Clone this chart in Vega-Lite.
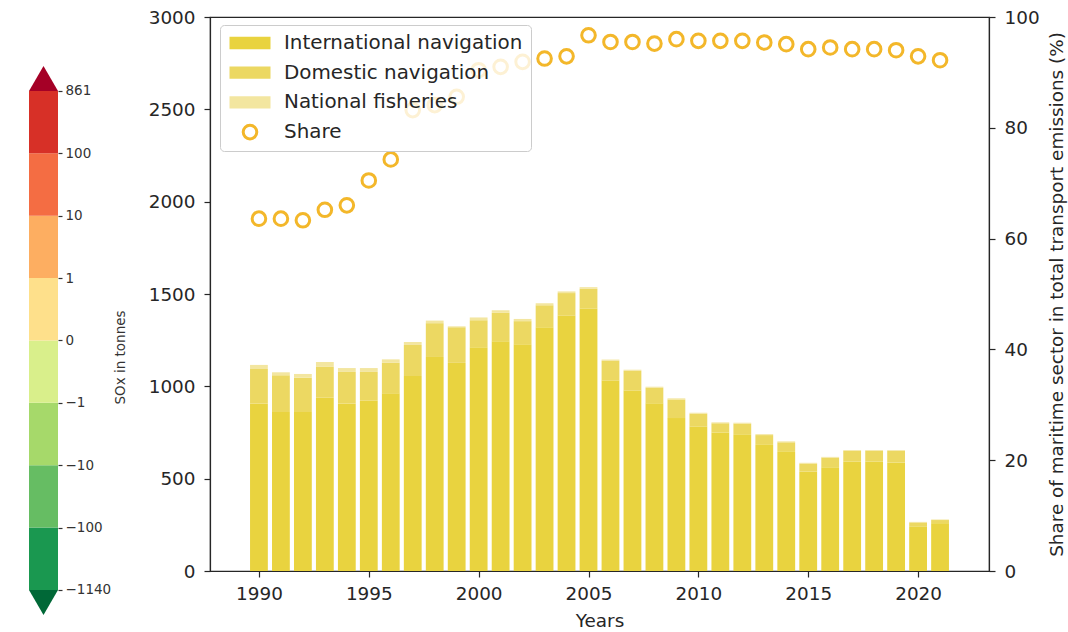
{
  "$schema": "https://vega.github.io/schema/vega-lite/v6.json",
  "background": "white",
  "padding": {"left": 29, "top": 7, "right": 5, "bottom": 5},
  "bounds": "flush",
  "spacing": 152,
  "config": {
    "font": "DejaVu Sans",
    "view": {"stroke": null},
    "axis": {"grid": false, "domainColor": "#262626", "tickColor": "#262626", "labelColor": "#262626", "titleColor": "#262626", "labelFont": "DejaVu Sans", "titleFont": "DejaVu Sans", "titleFontWeight": "normal", "domainWidth": 1.2, "tickWidth": 1.2}
  },
  "datasets": {
    "bars": [
      {"year": 1990, "series": "International navigation", "k": 1, "value": 906}, {"year": 1990, "series": "Domestic navigation", "k": 2, "value": 188}, {"year": 1990, "series": "National fisheries", "k": 3, "value": 22},
      {"year": 1991, "series": "International navigation", "k": 1, "value": 861}, {"year": 1991, "series": "Domestic navigation", "k": 2, "value": 199}, {"year": 1991, "series": "National fisheries", "k": 3, "value": 16},
      {"year": 1992, "series": "International navigation", "k": 1, "value": 861}, {"year": 1992, "series": "Domestic navigation", "k": 2, "value": 186}, {"year": 1992, "series": "National fisheries", "k": 3, "value": 20},
      {"year": 1993, "series": "International navigation", "k": 1, "value": 938}, {"year": 1993, "series": "Domestic navigation", "k": 2, "value": 170}, {"year": 1993, "series": "National fisheries", "k": 3, "value": 24},
      {"year": 1994, "series": "International navigation", "k": 1, "value": 906}, {"year": 1994, "series": "Domestic navigation", "k": 2, "value": 172}, {"year": 1994, "series": "National fisheries", "k": 3, "value": 21},
      {"year": 1995, "series": "International navigation", "k": 1, "value": 922}, {"year": 1995, "series": "Domestic navigation", "k": 2, "value": 156}, {"year": 1995, "series": "National fisheries", "k": 3, "value": 21},
      {"year": 1996, "series": "International navigation", "k": 1, "value": 962}, {"year": 1996, "series": "Domestic navigation", "k": 2, "value": 166}, {"year": 1996, "series": "National fisheries", "k": 3, "value": 18},
      {"year": 1997, "series": "International navigation", "k": 1, "value": 1056}, {"year": 1997, "series": "Domestic navigation", "k": 2, "value": 168}, {"year": 1997, "series": "National fisheries", "k": 3, "value": 16},
      {"year": 1998, "series": "International navigation", "k": 1, "value": 1159}, {"year": 1998, "series": "Domestic navigation", "k": 2, "value": 183}, {"year": 1998, "series": "National fisheries", "k": 3, "value": 14},
      {"year": 1999, "series": "International navigation", "k": 1, "value": 1127}, {"year": 1999, "series": "Domestic navigation", "k": 2, "value": 193}, {"year": 1999, "series": "National fisheries", "k": 3, "value": 5},
      {"year": 2000, "series": "International navigation", "k": 1, "value": 1212}, {"year": 2000, "series": "Domestic navigation", "k": 2, "value": 146}, {"year": 2000, "series": "National fisheries", "k": 3, "value": 15},
      {"year": 2001, "series": "International navigation", "k": 1, "value": 1244}, {"year": 2001, "series": "Domestic navigation", "k": 2, "value": 154}, {"year": 2001, "series": "National fisheries", "k": 3, "value": 14},
      {"year": 2002, "series": "International navigation", "k": 1, "value": 1228}, {"year": 2002, "series": "Domestic navigation", "k": 2, "value": 125}, {"year": 2002, "series": "National fisheries", "k": 3, "value": 12},
      {"year": 2003, "series": "International navigation", "k": 1, "value": 1320}, {"year": 2003, "series": "Domestic navigation", "k": 2, "value": 119}, {"year": 2003, "series": "National fisheries", "k": 3, "value": 11},
      {"year": 2004, "series": "International navigation", "k": 1, "value": 1382}, {"year": 2004, "series": "Domestic navigation", "k": 2, "value": 123}, {"year": 2004, "series": "National fisheries", "k": 3, "value": 9},
      {"year": 2005, "series": "International navigation", "k": 1, "value": 1420}, {"year": 2005, "series": "Domestic navigation", "k": 2, "value": 108}, {"year": 2005, "series": "National fisheries", "k": 3, "value": 9},
      {"year": 2006, "series": "International navigation", "k": 1, "value": 1031}, {"year": 2006, "series": "Domestic navigation", "k": 2, "value": 107}, {"year": 2006, "series": "National fisheries", "k": 3, "value": 7},
      {"year": 2007, "series": "International navigation", "k": 1, "value": 977}, {"year": 2007, "series": "Domestic navigation", "k": 2, "value": 107}, {"year": 2007, "series": "National fisheries", "k": 3, "value": 6},
      {"year": 2008, "series": "International navigation", "k": 1, "value": 908}, {"year": 2008, "series": "Domestic navigation", "k": 2, "value": 84}, {"year": 2008, "series": "National fisheries", "k": 3, "value": 6},
      {"year": 2009, "series": "International navigation", "k": 1, "value": 828}, {"year": 2009, "series": "Domestic navigation", "k": 2, "value": 101}, {"year": 2009, "series": "National fisheries", "k": 3, "value": 6},
      {"year": 2010, "series": "International navigation", "k": 1, "value": 781}, {"year": 2010, "series": "Domestic navigation", "k": 2, "value": 71}, {"year": 2010, "series": "National fisheries", "k": 3, "value": 5},
      {"year": 2011, "series": "International navigation", "k": 1, "value": 750}, {"year": 2011, "series": "Domestic navigation", "k": 2, "value": 50}, {"year": 2011, "series": "National fisheries", "k": 3, "value": 5},
      {"year": 2012, "series": "International navigation", "k": 1, "value": 741}, {"year": 2012, "series": "Domestic navigation", "k": 2, "value": 57}, {"year": 2012, "series": "National fisheries", "k": 3, "value": 5},
      {"year": 2013, "series": "International navigation", "k": 1, "value": 687}, {"year": 2013, "series": "Domestic navigation", "k": 2, "value": 49}, {"year": 2013, "series": "National fisheries", "k": 3, "value": 5},
      {"year": 2014, "series": "International navigation", "k": 1, "value": 649}, {"year": 2014, "series": "Domestic navigation", "k": 2, "value": 48}, {"year": 2014, "series": "National fisheries", "k": 3, "value": 5},
      {"year": 2015, "series": "International navigation", "k": 1, "value": 539}, {"year": 2015, "series": "Domestic navigation", "k": 2, "value": 43}, {"year": 2015, "series": "National fisheries", "k": 3, "value": 4},
      {"year": 2016, "series": "International navigation", "k": 1, "value": 562}, {"year": 2016, "series": "Domestic navigation", "k": 2, "value": 52}, {"year": 2016, "series": "National fisheries", "k": 3, "value": 4},
      {"year": 2017, "series": "International navigation", "k": 1, "value": 593}, {"year": 2017, "series": "Domestic navigation", "k": 2, "value": 58}, {"year": 2017, "series": "National fisheries", "k": 3, "value": 4},
      {"year": 2018, "series": "International navigation", "k": 1, "value": 593}, {"year": 2018, "series": "Domestic navigation", "k": 2, "value": 58}, {"year": 2018, "series": "National fisheries", "k": 3, "value": 4},
      {"year": 2019, "series": "International navigation", "k": 1, "value": 588}, {"year": 2019, "series": "Domestic navigation", "k": 2, "value": 63}, {"year": 2019, "series": "National fisheries", "k": 3, "value": 4},
      {"year": 2020, "series": "International navigation", "k": 1, "value": 242}, {"year": 2020, "series": "Domestic navigation", "k": 2, "value": 21}, {"year": 2020, "series": "National fisheries", "k": 3, "value": 3},
      {"year": 2021, "series": "International navigation", "k": 1, "value": 259}, {"year": 2021, "series": "Domestic navigation", "k": 2, "value": 17}, {"year": 2021, "series": "National fisheries", "k": 3, "value": 3}
    ],
    "share": [
      {"year": 1990, "share": 63.6}, {"year": 1991, "share": 63.6}, {"year": 1992, "share": 63.3}, {"year": 1993, "share": 65.2},
      {"year": 1994, "share": 66.0}, {"year": 1995, "share": 70.5}, {"year": 1996, "share": 74.3}, {"year": 1997, "share": 83.2},
      {"year": 1998, "share": 84.1}, {"year": 1999, "share": 85.6}, {"year": 2000, "share": 90.4}, {"year": 2001, "share": 91.0},
      {"year": 2002, "share": 91.9}, {"year": 2003, "share": 92.5}, {"year": 2004, "share": 92.9}, {"year": 2005, "share": 96.7},
      {"year": 2006, "share": 95.5}, {"year": 2007, "share": 95.5}, {"year": 2008, "share": 95.2}, {"year": 2009, "share": 96.0},
      {"year": 2010, "share": 95.7}, {"year": 2011, "share": 95.7}, {"year": 2012, "share": 95.7}, {"year": 2013, "share": 95.4},
      {"year": 2014, "share": 95.1}, {"year": 2015, "share": 94.2}, {"year": 2016, "share": 94.5}, {"year": 2017, "share": 94.2},
      {"year": 2018, "share": 94.2}, {"year": 2019, "share": 94.0}, {"year": 2020, "share": 92.9}, {"year": 2021, "share": 92.2}
    ],
    "cbar": [
      {"band": "b0", "lo": 0, "hi": 1}, {"band": "b1", "lo": 1, "hi": 2}, {"band": "b2", "lo": 2, "hi": 3}, {"band": "b3", "lo": 3, "hi": 4},
      {"band": "b4", "lo": 4, "hi": 5}, {"band": "b5", "lo": 5, "hi": 6}, {"band": "b6", "lo": 6, "hi": 7}, {"band": "b7", "lo": 7, "hi": 8}
    ],
    "ends": [{"end": "top", "at": 8}, {"end": "bottom", "at": 0}]
  },
  "resolve": {"scale": {"color": "independent", "y": "independent", "x": "independent"}, "legend": {"color": "independent"}},
  "hconcat": [
    {
      "width": 29,
      "height": 600,
      "layer": [
        {
          "data": {"name": "cbar"},
          "mark": {"type": "rect"},
          "encoding": {
            "x": {"datum": 0, "type": "quantitative", "scale": {"domain": [0, 1]}, "axis": null},
            "x2": {"datum": 1},
            "y": {"field": "lo", "type": "quantitative", "scale": {"domain": [-0.433, 9.186], "nice": false, "zero": false},
              "axis": {"orient": "right", "values": [0, 1, 2, 3, 4, 5, 6, 7, 8], "domain": false, "tickSize": 4, "tickColor": "#333", "labelFontSize": 13.5, "labelPadding": 3, "labelColor": "#333",
                "labelExpr": "['−1140','−100','−10','−1','0','1','10','100','861'][datum.value]",
                "title": "SOx in tonnes", "titleFontSize": 13.5, "titleAngle": 270, "titlePadding": 17, "titleY": 340, "titleColor": "#333"}},
            "y2": {"field": "hi"},
            "color": {"field": "band", "type": "nominal", "legend": null,
              "scale": {"domain": ["b0", "b1", "b2", "b3", "b4", "b5", "b6", "b7"], "range": ["#1a9850", "#66bd63", "#a6d96a", "#d9ef8b", "#fee08b", "#fdae61", "#f46d43", "#d73027"]}}
          }
        },
        {
          "data": {"name": "ends"},
          "transform": [{"filter": "datum.end === 'top'"}],
          "mark": {"type": "point", "shape": "M-1,0.862L0,-0.862L1,0.862Z", "filled": true, "size": 841, "opacity": 1, "yOffset": -12.5, "color": "#a50026"},
          "encoding": {
            "x": {"datum": 0.5, "type": "quantitative"},
            "y": {"field": "at", "type": "quantitative"}
          }
        },
        {
          "data": {"name": "ends"},
          "transform": [{"filter": "datum.end === 'bottom'"}],
          "mark": {"type": "point", "shape": "M-1,-0.862L0,0.862L1,-0.862Z", "filled": true, "size": 841, "opacity": 1, "yOffset": 12.5, "color": "#006837"},
          "encoding": {
            "x": {"datum": 0.5, "type": "quantitative"},
            "y": {"field": "at", "type": "quantitative"}
          }
        }
      ]
    },
    {
      "width": 779,
      "height": 554,
      "view": {"stroke": "#262626", "strokeWidth": 1.2},
      "resolve": {"scale": {"y": "independent"}},
      "layer": [
        {
          "data": {"name": "bars"},
          "mark": {"type": "bar", "width": 17.8},
          "encoding": {
            "x": {"field": "year", "type": "quantitative", "scale": {"domain": [1988, 2023], "nice": false, "zero": false},
              "axis": {"values": [1990, 1995, 2000, 2005, 2010, 2015, 2020], "format": "d", "tickSize": 6, "labelFontSize": 18.4, "labelPadding": 7,
                "title": "Years", "titleFontSize": 18.4, "titlePadding": 9}},
            "y": {"field": "value", "type": "quantitative", "aggregate": "sum", "stack": "zero", "scale": {"domain": [0, 3000], "nice": false},
              "axis": {"values": [0, 500, 1000, 1500, 2000, 2500, 3000], "format": "d", "tickSize": 6, "labelFontSize": 18.4, "labelPadding": 9, "title": null}},
            "order": {"field": "k", "type": "quantitative", "sort": "ascending"},
            "color": {"field": "series", "type": "nominal",
              "scale": {"domain": ["International navigation", "Domestic navigation", "National fisheries", "Share"], "range": ["#e9d33f", "#ecd862", "#f3e6a0", "#f3b72a"]},
              "legend": {
                "orient": "none", "legendX": 10, "legendY": 8, "title": null,
                "symbolSize": 1681, "clipHeight": 20, "rowPadding": 9.7, "labelOffset": 12, "symbolOffset": 0,
                "padding": 8, "labelFontSize": 19.9, "labelColor": "#262626", "labelFont": "DejaVu Sans", "labelLimit": 500,
                "cornerRadius": 4, "strokeColor": "#cccccc", "fillColor": "rgba(255,255,255,0.8)",
                "encode": {
                  "symbols": {
                    "update": {
                      "shape": {"signal": "datum.value === 'Share' ? 'circle' : 'M-1,-0.3H1V0.3H-1Z'"},
                      "size": {"signal": "datum.value === 'Share' ? 185 : 1681"},
                      "fill": {"signal": "datum.value === 'Share' ? 'white' : (datum.value === 'International navigation' ? '#e9d33f' : (datum.value === 'Domestic navigation' ? '#ecd862' : '#f3e6a0'))"},
                      "fillOpacity": {"signal": "datum.value === 'Share' ? 0 : 1"},
                      "stroke": {"signal": "datum.value === 'Share' ? '#f3b72a' : 'transparent'"},
                      "strokeWidth": {"value": 3},
                      "opacity": {"value": 1}
                    }
                  }
                }
              }
            }
          }
        },
        {
          "data": {"name": "share"},
          "mark": {"type": "point", "filled": false, "size": 185, "strokeWidth": 3, "color": "#f3b72a", "opacity": 1},
          "encoding": {
            "x": {"field": "year", "type": "quantitative"},
            "y": {"field": "share", "type": "quantitative", "scale": {"domain": [0, 100], "nice": false},
              "axis": {"orient": "right", "values": [0, 20, 40, 60, 80, 100], "format": "d", "tickSize": 6, "labelFontSize": 18.4, "labelPadding": 9,
                "title": "Share of maritime sector in total transport emissions (%)", "titleFontSize": 18.4, "titleAngle": 270, "titlePadding": 27}}
          }
        }
      ]
    }
  ]
}
